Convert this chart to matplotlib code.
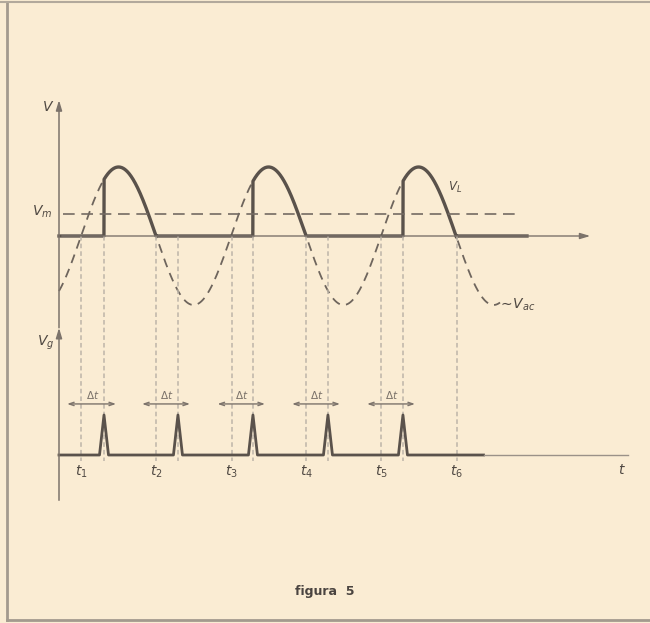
import numpy as np
import matplotlib
matplotlib.use('Agg')
import matplotlib.pyplot as plt
from matplotlib.lines import Line2D

# time in units of the mains period T, voltages in units of the peak of v_ac
t_cross = [0.147, 0.647, 1.150, 1.647, 2.147, 2.650]   # t1..t6 zero crossings
t_labels = ['$t_1$', '$t_2$', '$t_3$', '$t_4$', '$t_5$', '$t_6$']
t_fire = [0.300, 0.793, 1.293, 1.793, 2.293]            # gate pulses
vac_amp = 1.0
vac_period = 1.0
vac_start, vac_end = 0.0, 2.94
vm_level = 0.32
vl_end = 3.12
pulse_height = 0.58
pulse_half = 0.03
vg_offset = -3.174        # baseline of the gate signal
vg_end = 2.83

bg = '#faecd3'
ink = '#5a524b'
light = '#bdb5a8'

fig = plt.figure(figsize=(6.5, 6.23), dpi=100, facecolor=bg)
ax = fig.add_axes([0, 0, 1, 1])
ax.set_facecolor(bg)
ax.set_xlim(-59/150, 591/150)
ax.set_ylim(-387/69, 236/69)
ax.axis('off')

# v_ac (dashed sine)
t = np.linspace(vac_start, vac_end, 600)
vac = vac_amp*np.sin(2*np.pi*(t - t_cross[0])/vac_period)
ax.plot(t, vac, color='#6e655d', lw=1.3, ls=(0, (5, 3.5)))

# v_L : follows v_ac from firing to next downward crossing
tl = np.linspace(0, vl_end, 3000)
vl = np.zeros_like(tl)
for tf, tz in zip(t_fire[::2], t_cross[1::2]):
    on = (tl >= tf) & (tl <= tz)
    vl[on] = vac_amp*np.sin(2*np.pi*(tl[on] - t_cross[0])/vac_period)
ax.plot(tl, vl, color=ink, lw=2.4, solid_joinstyle='round')

# V_m level
ax.plot([0.027, 3.05], [vm_level, vm_level], color='#746b63', lw=1.2, ls=(0, (7, 4)))

# time axis (upper)
ax.annotate('', xy=(3.56, 0), xytext=(0, 0),
            arrowprops=dict(arrowstyle='-|>,head_length=0.6,head_width=0.18', color='#7c736b', lw=1))

# vertical axes
ax.annotate('', xy=(0, 1.97), xytext=(0, -1.33),
            arrowprops=dict(arrowstyle='-|>,head_length=0.6,head_width=0.18', color='#7c736b', lw=1.1,
                            shrinkA=0, shrinkB=0))
ax.annotate('', xy=(0, -1.33), xytext=(0, -3.83),
            arrowprops=dict(arrowstyle='-|>,head_length=0.6,head_width=0.18', color='#7c736b', lw=1.1,
                            shrinkA=0, shrinkB=0))

# guide lines
for xg in t_cross + t_fire:
    ax.plot([xg, xg], [0, vg_offset - 0.08], color=light, lw=1.1, ls=(0, (3, 2)))

# gate signal
xs = [0.0]
ys = [0.0]
for p in t_fire:
    xs += [p - pulse_half, p, p + pulse_half]
    ys += [0, pulse_height, 0]
xs.append(vg_end)
ys.append(0)
ax.plot(xs, np.array(ys) + vg_offset, color=ink, lw=2.0)
ax.plot([vg_end, 3.79], [vg_offset, vg_offset], color='#9a9188', lw=1.0)

# delta t arrows
dt_y = vg_offset + 0.74
for tz, p in zip(t_cross, t_fire):
    ax.annotate('', xy=(p + 0.08, dt_y), xytext=(tz - 0.093, dt_y),
                arrowprops=dict(arrowstyle='<->,head_length=0.35,head_width=0.12', color='#7c736b', lw=1,
                                shrinkA=0, shrinkB=0))
    ax.text((tz + p)/2, dt_y + 0.04, r'$\Delta t$', ha='center', va='bottom', fontsize=7.5, color='#7a7169')

# labels
tc = '#4f4842'
ax.text(-0.073, 1.87, '$V$', fontsize=10, color=tc, ha='center', va='center', fontweight='bold')
ax.text(-0.045, 0.35, '$V_m$', fontsize=10, color=tc, ha='right', va='center')
ax.text(2.59, 0.70, '$V_L$', fontsize=8.5, color=tc, ha='left', va='center')
ax.text(-0.03, -1.55, '$V_g$', fontsize=10, color=tc, ha='right', va='center')
ax.text(2.93, -0.99, r'$\sim\!V_{ac}$', fontsize=10, color=tc, ha='left', va='center')
for x, lab in zip(t_cross, t_labels):
    ax.text(x, vg_offset - 0.25, lab, fontsize=10, color=tc, ha='center', va='center')
ax.text(3.75, vg_offset - 0.22, '$t$', fontsize=10, color=tc, ha='center', va='center')

fig.text(0.5, 1 - 591/623, 'figura  5', ha='center', va='center', fontsize=9,
         fontweight='bold', color='#4a4440')

# page border
fig.add_artist(Line2D([7/650, 7/650], [1 - 3/623, 1 - 620/623], color='#a39a8e', lw=2))
fig.add_artist(Line2D([0, 1], [1 - 2/623, 1 - 2/623], color='#b2a99c', lw=1.5))
fig.add_artist(Line2D([7/650, 1], [1 - 620/623, 1 - 620/623], color='#a39a8e', lw=2))

fig.savefig('out.png', dpi=100, facecolor=bg)
